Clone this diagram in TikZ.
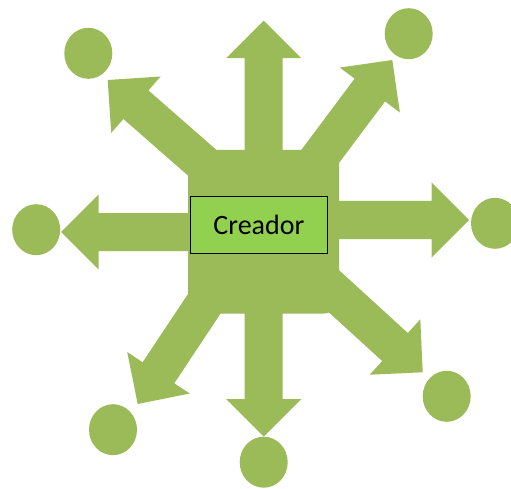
\documentclass[tikz,border=0pt]{standalone}
\usepackage{fontspec}
\setmainfont{Carlito}
\usetikzlibrary{shapes.geometric}

\definecolor{leaf}{HTML}{9BBB59}
\definecolor{boxgreen}{HTML}{92D050}

\tikzset{
  leaffill/.style={fill=leaf, draw=none},
  endpoint/.style={ellipse, leaffill, minimum width=48pt, minimum height=51pt, inner sep=0pt},
  hub/.style={rectangle, rounded corners=15pt, leaffill, minimum width=151pt, minimum height=163.5pt, inner sep=0pt},
  namebox/.style={rectangle, fill=boxgreen, draw=black, line width=0.8pt,
    minimum width=137.7pt, minimum height=56.6pt, inner sep=0pt,
    font=\fontsize{28}{32}\selectfont},
}

% block arrow: tip coordinate, direction (degrees), total length
\newcommand\blockarrow[3]{%
  \fill[leaf, shift={(#1)}, rotate=#2]
    (0,0) -- (-37.5,37.5) -- (-37.5,19) -- (-#3,19) -- (-#3,-19)
    -- (-37.5,-19) -- (-37.5,-37.5) -- cycle;}

\begin{document}
\begin{tikzpicture}[x=1pt, y=1pt]
  \useasboundingbox (0,0) rectangle (511,-489);
  \clip (0,0) rectangle (511,-489);

  % arrow tips
  \coordinate (tipN)  at (263.7,-20.7);
  \coordinate (tipS)  at (263.7,-436.7);
  \coordinate (tipW)  at (61,-232);
  \coordinate (tipE)  at (469,-220);
  \coordinate (tipNW) at (107.7,-80);
  \coordinate (tipNE) at (392.3,-60);
  \coordinate (tipSE) at (422.7,-372.3);
  \coordinate (tipSW) at (137.7,-404);

  % outgoing arrows
  \blockarrow{tipN}{90}{180}
  \blockarrow{tipS}{-90}{177}
  \blockarrow{tipW}{180}{179}
  \blockarrow{tipE}{0}{179}
  \blockarrow{tipNW}{138.8}{150}
  \blockarrow{tipNE}{53.2}{150}
  \blockarrow{tipSE}{-42.4}{150}
  \blockarrow{tipSW}{236.4}{150}

  % central hub and its label
  \node[hub] (hub) at (263.5,-231.75) {};
  \node[namebox] (creador) at (258.9,-225) {Creador};

  % end points
  \node[endpoint] (nw) at (88.3,-53.3) {};
  \node[endpoint] (ne) at (408.7,-33.7) {};
  \node[endpoint] (w)  at (36.2,-229.7) {};
  \node[endpoint] (e)  at (495,-223.3) {};
  \node[endpoint] (se) at (446.7,-396.3) {};
  \node[endpoint] (s)  at (263.7,-462.2) {};
  \node[endpoint] (sw) at (113,-429.7) {};
\end{tikzpicture}
\end{document}
